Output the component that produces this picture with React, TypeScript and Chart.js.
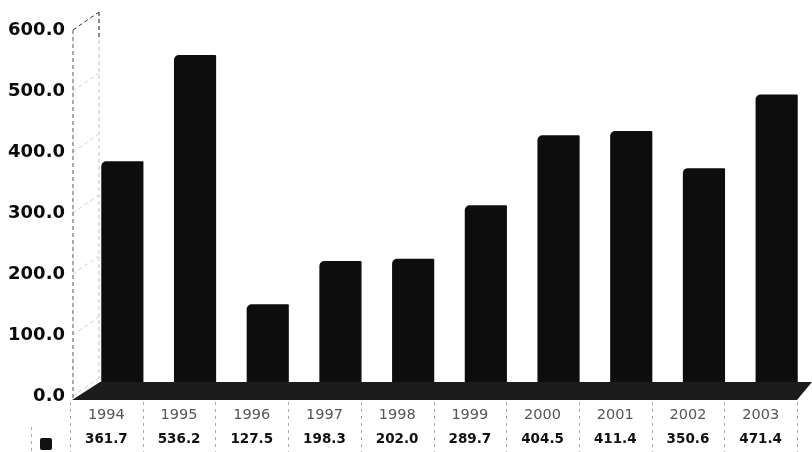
import React, { useEffect, useRef } from "react";
import { Chart, registerables } from "chart.js";

Chart.register(...registerables);

const categories = ["1994", "1995", "1996", "1997", "1998", "1999", "2000", "2001", "2002", "2003"];
const seriesValues = [361.7, 536.2, 127.5, 198.3, 202.0, 289.7, 404.5, 411.4, 350.6, 471.4];
const valueLabels = ["361.7", "536.2", "127.5", "198.3", "202.0", "289.7", "404.5", "411.4", "350.6", "471.4"];

const DEPTH_X = 16;
const DEPTH_Y = 14;
const WALL_X = 26;
const WALL_Y = 18;

const depthPlugin = {
  id: "depth3d",
  beforeDatasetsDraw(chart: any) {
    const { ctx, chartArea, scales } = chart;
    const { left, right, bottom, top } = chartArea;
    ctx.save();
    ctx.setLineDash([4, 3]);
    ctx.lineWidth = 1;
    const yScale = scales.y;
    yScale.ticks.forEach((t: any, i: number) => {
      const y = yScale.getPixelForValue(t.value);
      ctx.strokeStyle = i === yScale.ticks.length - 1 ? "#333" : "#cfcfcf";
      ctx.beginPath();
      ctx.moveTo(left + 3, y);
      ctx.lineTo(left + 3 + WALL_X, y - WALL_Y);
      ctx.stroke();
    });
    ctx.strokeStyle = "#555";
    ctx.beginPath();
    ctx.moveTo(left + 3, top);
    ctx.lineTo(left + 3, bottom + 4);
    ctx.stroke();
    ctx.strokeStyle = "#c4c4c4";
    ctx.beginPath();
    ctx.moveTo(left + 3 + WALL_X, top - WALL_Y);
    ctx.lineTo(left + 3 + WALL_X, bottom - WALL_Y);
    ctx.stroke();
    ctx.strokeStyle = "#333";
    ctx.beginPath();
    ctx.moveTo(left + 3 + WALL_X, top - WALL_Y);
    ctx.lineTo(left + 3 + WALL_X, top + 10);
    ctx.stroke();
    ctx.setLineDash([]);
    ctx.fillStyle = "#1c1c1c";
    ctx.beginPath();
    ctx.moveTo(left + 2, bottom + 4);
    ctx.lineTo(left + 2 + 28, bottom - DEPTH_Y);
    ctx.lineTo(right + 15, bottom - DEPTH_Y);
    ctx.lineTo(right, bottom + 4);
    ctx.closePath();
    ctx.fill();
    ctx.restore();
    ctx.save();
    ctx.translate(DEPTH_X, -DEPTH_Y);
  },
  afterDatasetsDraw(chart: any) {
    chart.ctx.restore();
  },
  afterDraw(chart: any) {
    const { ctx, chartArea, scales } = chart;
    const xScale = scales.x;
    const rowY = 439;
    ctx.save();
    ctx.fillStyle = "#111";
    ctx.font = "bold 13.5px 'DejaVu Sans'";
    ctx.textAlign = "center";
    ctx.textBaseline = "middle";
    valueLabels.forEach((lbl, i) => {
      ctx.fillText(lbl, xScale.getPixelForValue(i), rowY);
    });
    ctx.beginPath();
    const kx = chartArea.left - 30;
    if ((ctx as any).roundRect) {
      (ctx as any).roundRect(kx, rowY - 1, 12, 12, 2);
    } else {
      ctx.rect(kx, rowY - 1, 12, 12);
    }
    ctx.fill();
    ctx.strokeStyle = "#aaa";
    ctx.lineWidth = 1;
    ctx.setLineDash([3, 4]);
    const step = xScale.getPixelForValue(1) - xScale.getPixelForValue(0);
    for (let i = 0; i <= categories.length; i++) {
      const x = i === categories.length ? chartArea.right : xScale.getPixelForValue(i) - step / 2;
      ctx.beginPath();
      ctx.moveTo(Math.round(x) + 0.5, chartArea.bottom + 6);
      ctx.lineTo(Math.round(x) + 0.5, 452);
      ctx.stroke();
    }
    ctx.beginPath();
    ctx.moveTo(chartArea.left - 38.5, rowY - 12);
    ctx.lineTo(chartArea.left - 38.5, 452);
    ctx.stroke();
    ctx.restore();
  },
};

export default function App() {
  const ref = useRef<HTMLCanvasElement | null>(null);
  useEffect(() => {
    document.body.style.margin = "0";
    if (!ref.current) return;
    const chart = new Chart(ref.current, {
      type: "bar",
      data: {
        labels: categories,
        datasets: [
          {
            data: seriesValues,
            backgroundColor: "#0d0d0d",
            borderWidth: 0,
            borderRadius: { topLeft: 5, topRight: 1, bottomLeft: 0, bottomRight: 0 },
            borderSkipped: "bottom",
            barPercentage: 0.58,
            categoryPercentage: 1,
            clip: false as any,
          },
        ],
      },
      options: {
        animation: false,
        responsive: false,
        devicePixelRatio: 1,
        layout: { padding: { top: 30, right: 15, left: 0, bottom: 0 } },
        plugins: { legend: { display: false }, tooltip: { enabled: false } },
        scales: {
          x: {
            grid: { display: false, drawTicks: false },
            border: { display: false },
            ticks: {
              padding: 11,
              color: "#555",
              font: { family: "'DejaVu Sans'", size: 14.5 },
              maxRotation: 0,
              autoSkip: false,
            },
            afterFit(scale: any) {
              scale.height = 56;
            },
          },
          y: {
            min: 0,
            max: 600,
            grid: { display: false, drawTicks: false },
            border: { display: false },
            ticks: {
              stepSize: 100,
              padding: 5,
              color: "#0a0a0a",
              font: { family: "'DejaVu Sans'", size: 18, weight: "bold" },
              callback: (v: any) => Number(v).toFixed(1),
            },
            afterFit(scale: any) {
              scale.width = 70;
            },
          },
        },
      },
      plugins: [depthPlugin],
    });
    return () => chart.destroy();
  }, []);
  return (
    <div style={{ width: 812, height: 452 }}>
      <canvas ref={ref} width={812} height={452} style={{ display: "block" }} />
    </div>
  );
}
